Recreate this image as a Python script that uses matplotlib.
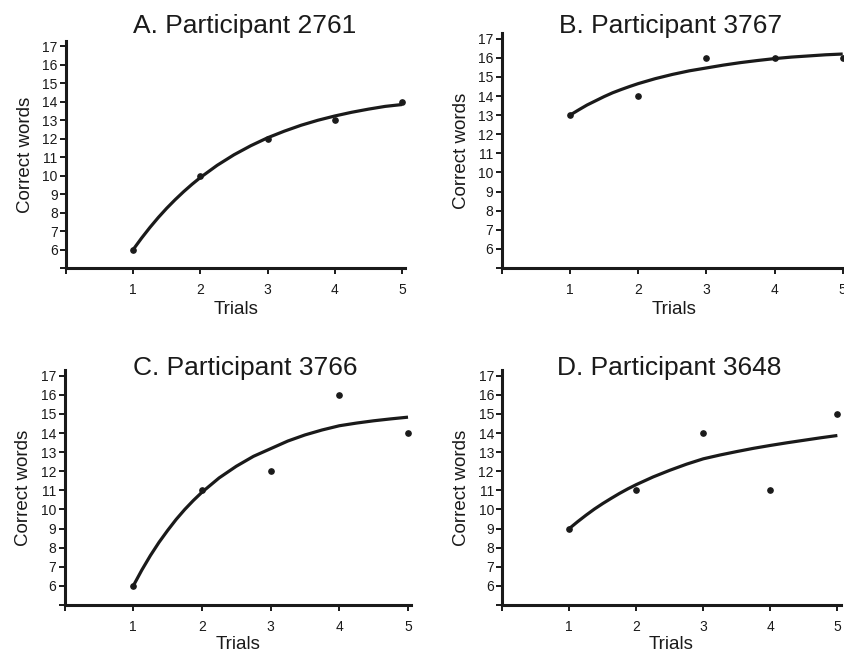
import matplotlib
matplotlib.use("Agg")
import matplotlib.pyplot as plt

plt.rcParams['font.family'] = ['Liberation Sans', 'DejaVu Sans']

# observed correct words per trial
trials = [1, 2, 3, 4, 5]
words_a = [6, 10, 12, 13, 14]
words_b = [13, 14, 16, 16, 16]
words_c = [6, 11, 12, 16, 14]
words_d = [9, 11, 14, 11, 15]

# fitted learning curves (finer steps where it bends most)
fit_x = [1, 1.125, 1.25, 1.375, 1.5, 1.625, 1.75, 1.875, 2,
         2.25, 2.5, 2.75, 3, 3.25, 3.5, 3.75, 4, 4.25, 4.5, 4.75, 5]
fit_a = [6.0, 6.62, 7.2, 7.74, 8.24, 8.7, 9.13, 9.53, 9.9,
         10.56, 11.13, 11.62, 12.05, 12.41, 12.73, 13.0, 13.23, 13.43, 13.6, 13.75, 13.85]
fit_b = [13.0, 13.27, 13.53, 13.75, 13.97, 14.17, 14.34, 14.5, 14.65,
         14.91, 15.13, 15.32, 15.47, 15.62, 15.75, 15.86, 15.96, 16.04, 16.1, 16.16, 16.2]
fit_c = [6.0, 6.83, 7.59, 8.28, 8.9, 9.48, 10.0, 10.47, 10.9,
         11.65, 12.26, 12.78, 13.18, 13.58, 13.9, 14.16, 14.38, 14.52, 14.64, 14.74, 14.83]
fit_d = [9.0, 9.36, 9.7, 10.02, 10.31, 10.58, 10.84, 11.08, 11.3,
         11.7, 12.05, 12.37, 12.65, 12.85, 13.03, 13.2, 13.35, 13.49, 13.62, 13.75, 13.87]

titles = ["A. Participant 2761", "B. Participant 3767",
          "C. Participant 3766", "D. Participant 3648"]

y_ticks = list(range(5, 18))
y_labels = [""] + [str(v) for v in y_ticks[1:]]
x_ticks = [0, 1, 2, 3, 4, 5]
x_labels = [""] + [str(v) for v in x_ticks[1:]]

ink = "#1a1a1a"

fig = plt.figure(figsize=(8.44, 6.51), dpi=100)

# [left, bottom, width, height] in figure fraction
boxes = [[0.0782, 0.5883, 0.402, 0.349],
         [0.5945, 0.5883, 0.408, 0.361],
         [0.0765, 0.0707, 0.411, 0.361],
         [0.5951, 0.0707, 0.401, 0.361]]
# title centres (x, baseline y) in figure fraction
title_pos = [(0.290, 0.949), (0.794, 0.949), (0.290, 0.424), (0.793, 0.424)]
xlabel_pads = [3, 3, 1, 1]

panels = [(words_a, fit_a), (words_b, fit_b), (words_c, fit_c), (words_d, fit_d)]

for box, (obs, fit), title, tp, lp in zip(boxes, panels, titles, title_pos, xlabel_pads):
    ax = fig.add_axes(box)
    ax.plot(fit_x, fit, color=ink, linewidth=2.3, solid_capstyle='butt',
            solid_joinstyle='round', clip_on=False)
    ax.plot(trials, obs, "o", color=ink, markersize=3.8, clip_on=False)

    ax.set_xlim(0, 5.05)
    ax.set_ylim(5, 17.3)
    ax.set_xticks(x_ticks)
    ax.set_xticklabels(x_labels)
    ax.set_yticks(y_ticks)
    ax.set_yticklabels(y_labels)

    for side in ["top", "right"]:
        ax.spines[side].set_visible(False)
    for side in ["left", "bottom"]:
        ax.spines[side].set_linewidth(2.2)
        ax.spines[side].set_color(ink)
        ax.spines[side].set_capstyle('projecting')

    ax.tick_params(axis="both", direction="out", length=4, width=1.4,
                   colors=ink, labelsize=10, pad=2)
    ax.tick_params(axis="x", pad=7)

    ax.set_xlabel("Trials", fontsize=13.5, color=ink, labelpad=lp)
    ax.set_ylabel("Correct words", fontsize=13.5, color=ink, labelpad=6)
    fig.text(tp[0], tp[1], title, fontsize=19, color=ink,
             ha="center", va="baseline")

plt.savefig("out.png", dpi=100)
